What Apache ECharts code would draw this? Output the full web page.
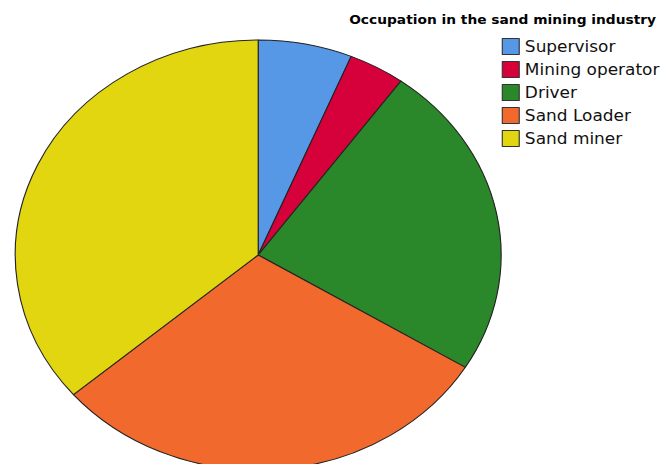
<!DOCTYPE html>
<html>
<head>
<meta charset="utf-8">
<script src="https://cdn.jsdelivr.net/npm/echarts@6/dist/echarts.min.js"></script>
<style>
  html, body { margin: 0; padding: 0; background: #fff; overflow: hidden; }
  #wrap { width: 662px; height: 464px; position: relative; overflow: hidden; }
  /* chart is laid out narrow and stretched horizontally */
  #chart { position: absolute; left: 0; top: 0; width: 586px; height: 464px;
           transform: scaleX(1.13); transform-origin: 0 0; }
</style>
</head>
<body>
<div id="wrap"><div id="chart"></div></div>
<script>
const titleText = 'Occupation in the sand mining industry';
const categories = ['Supervisor', 'Mining operator', 'Driver', 'Sand Loader', 'Sand miner'];
const counts = [5, 3, 19, 24, 29];
const colors = ['#5698e6', '#d6003a', '#2a882a', '#f2692d', '#e2d611'];

const chart = echarts.init(document.getElementById('chart'), null, { renderer: 'svg' });

chart.setOption({
  animation: false,
  backgroundColor: '#ffffff',
  color: colors,
  title: {
    text: titleText,
    left: 309,
    top: 14,
    padding: 0,
    textStyle: { fontFamily: 'DejaVu Sans', fontWeight: 'bold', fontSize: 12.2, color: '#000' }
  },
  legend: {
    orient: 'vertical',
    left: 444,
    top: 38,
    padding: 0,
    itemWidth: 15,
    itemHeight: 16,
    itemGap: 6,
    icon: 'rect',
    selectedMode: false,
    data: categories,
    itemStyle: { borderColor: '#333', borderWidth: 1 },
    textStyle: { fontFamily: 'DejaVu Sans', fontSize: 15, color: '#111', padding: [0, 0, 0, 0] }
  },
  series: [{
    type: 'pie',
    center: [228.5, 255],
    radius: 215,
    startAngle: 90,
    clockwise: true,
    silent: true,
    label: { show: false },
    labelLine: { show: false },
    emphasis: { disabled: true },
    itemStyle: { borderColor: '#222', borderWidth: 1 },
    data: categories.map((name, i) => ({ name: name, value: counts[i] }))
  }]
});
</script>
</body>
</html>
